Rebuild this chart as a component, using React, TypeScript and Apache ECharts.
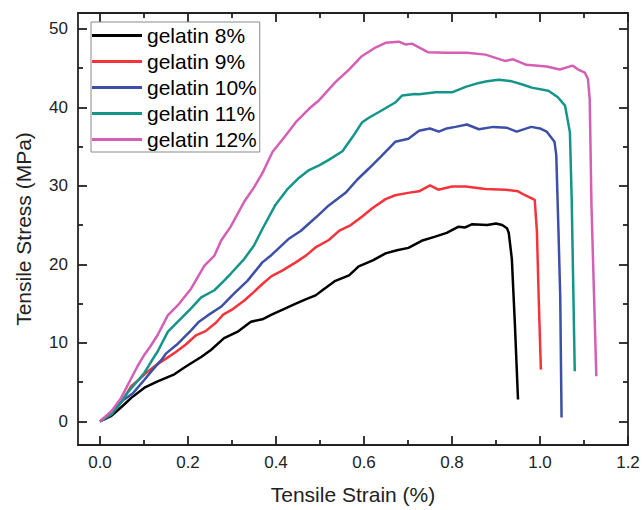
import React, { useEffect, useRef } from "react";
import * as echarts from "echarts";

const seriesNames = ["gelatin 8%", "gelatin 9%", "gelatin 10%", "gelatin 11%", "gelatin 12%"];
const seriesColors = ["#000000", "#f5333a", "#3d4fa6", "#14958a", "#d45fb5"];

const gel8: number[][] = [[0,0],[0.026,0.7],[0.05,1.9],[0.071,3.0],[0.101,4.3],[0.131,5.1],[0.169,6.0],[0.19,6.8],[0.207,7.4],[0.23,8.2],[0.252,9.1],[0.282,10.6],[0.312,11.4],[0.343,12.7],[0.369,13.0],[0.39,13.6],[0.414,14.2],[0.445,15.0],[0.47,15.6],[0.49,16.05],[0.51,16.9],[0.535,17.9],[0.566,18.6],[0.588,19.75],[0.62,20.5],[0.649,21.4],[0.675,21.8],[0.701,22.1],[0.731,23.0],[0.76,23.5],[0.788,24.0],[0.815,24.8],[0.83,24.7],[0.845,25.1],[0.88,25.0],[0.9,25.2],[0.914,25.0],[0.925,24.6],[0.929,24.0],[0.936,20.7],[0.943,12.3],[0.95,2.8]];
const gel9: number[][] = [[0,0],[0.025,1.2],[0.048,2.4],[0.071,4.5],[0.09,5.4],[0.101,6.0],[0.128,7.2],[0.15,8.0],[0.174,8.9],[0.195,9.8],[0.219,11.0],[0.24,11.5],[0.264,12.6],[0.28,13.6],[0.302,14.3],[0.328,15.4],[0.35,16.5],[0.369,17.5],[0.39,18.5],[0.414,19.2],[0.445,20.25],[0.47,21.2],[0.491,22.2],[0.52,23.1],[0.544,24.3],[0.57,25.0],[0.596,26.1],[0.618,27.1],[0.649,28.3],[0.671,28.8],[0.7,29.1],[0.725,29.3],[0.75,30.05],[0.769,29.5],[0.8,29.9],[0.831,29.9],[0.876,29.6],[0.921,29.5],[0.95,29.3],[0.966,28.8],[0.988,28.2],[0.993,24.2],[0.997,15.8],[1.002,6.6]];
const gel10: number[][] = [[0,0],[0.025,1.0],[0.05,2.6],[0.075,3.6],[0.101,5.3],[0.12,6.6],[0.139,7.8],[0.151,8.7],[0.177,9.9],[0.207,11.6],[0.225,12.7],[0.245,13.5],[0.275,14.6],[0.305,16.3],[0.335,17.9],[0.369,20.25],[0.39,21.2],[0.407,22.1],[0.43,23.3],[0.456,24.25],[0.477,25.3],[0.497,26.3],[0.52,27.5],[0.558,29.1],[0.585,30.8],[0.611,32.2],[0.64,33.8],[0.671,35.6],[0.701,36.0],[0.725,37.0],[0.75,37.3],[0.77,36.9],[0.788,37.3],[0.808,37.5],[0.834,37.8],[0.861,37.2],[0.894,37.5],[0.924,37.4],[0.947,36.9],[0.98,37.5],[1.0,37.3],[1.015,36.9],[1.033,35.6],[1.037,33.9],[1.042,24.2],[1.046,15.8],[1.049,0.5]];
const gel11: number[][] = [[0,0],[0.026,0.9],[0.045,2.2],[0.063,3.7],[0.08,4.8],[0.101,6.2],[0.115,7.5],[0.131,8.9],[0.154,11.4],[0.177,12.7],[0.207,14.4],[0.23,15.8],[0.26,16.7],[0.28,17.8],[0.297,18.8],[0.328,20.7],[0.35,22.4],[0.369,24.5],[0.399,27.6],[0.425,29.5],[0.452,31.0],[0.475,32.0],[0.498,32.6],[0.52,33.3],[0.551,34.4],[0.575,36.3],[0.596,38.1],[0.612,38.7],[0.634,39.4],[0.671,40.6],[0.687,41.5],[0.716,41.7],[0.725,41.65],[0.763,41.9],[0.8,41.9],[0.831,42.6],[0.861,43.1],[0.88,43.3],[0.906,43.5],[0.936,43.3],[0.96,42.9],[0.981,42.5],[1.019,42.1],[1.04,41.3],[1.057,40.2],[1.068,36.8],[1.072,28.4],[1.079,6.4]];
const gel12: number[][] = [[0,0],[0.026,1.3],[0.048,3.0],[0.071,5.5],[0.085,7.0],[0.101,8.5],[0.115,9.6],[0.131,11.0],[0.154,13.5],[0.177,14.8],[0.207,16.9],[0.237,19.8],[0.26,21.1],[0.275,23.0],[0.297,24.8],[0.328,28.0],[0.35,29.8],[0.369,31.6],[0.392,34.3],[0.422,36.4],[0.445,38.1],[0.475,39.8],[0.498,40.9],[0.535,43.2],[0.566,44.8],[0.595,46.5],[0.626,47.6],[0.649,48.2],[0.679,48.35],[0.694,48.0],[0.709,48.1],[0.746,47.0],[0.788,46.95],[0.834,46.95],[0.876,46.7],[0.92,45.9],[0.939,46.1],[0.969,45.4],[1.015,45.2],[1.045,44.8],[1.074,45.3],[1.087,44.8],[1.102,44.4],[1.109,43.6],[1.113,41.0],[1.117,27.5],[1.128,5.75]];

const xMajorTicks = [0, 0.2, 0.4, 0.6, 0.8, 1.0, 1.2];
const xMinorTicks = [0.1, 0.3, 0.5, 0.7, 0.9, 1.1];
const yMajorTicks = [0, 10, 20, 30, 40, 50];
const yMinorTicks = [5, 15, 25, 35, 45];

const FONT = "'Liberation Sans', Arial, Helvetica, sans-serif";
const AX = "#222222";

export default function App() {
  const ref = useRef<HTMLDivElement>(null);
  useEffect(() => {
    if (!ref.current) return;
    const chart = echarts.init(ref.current, undefined, { renderer: "svg" });
    const allData = [gel8, gel9, gel10, gel11, gel12];
    const xMin = -0.05, xMax = 1.2, yMin = -3, yMax = 52;
    const lineStyle = { color: AX, width: 1.8 };
    const mkX = (pos: string, ticks: number[], len: number, showLine: boolean, labels: boolean, extra: any = {}) => ({
      type: "value", position: pos, min: xMin, max: xMax, gridIndex: 0,
      axisLine: { show: showLine, onZero: false, lineStyle },
      axisTick: { show: true, inside: true, length: len, customValues: ticks, lineStyle },
      axisLabel: labels
        ? { show: true, customValues: ticks, formatter: (v: number) => v.toFixed(1), fontSize: 17, color: AX, fontFamily: FONT, margin: 9 }
        : { show: false },
      splitLine: { show: false },
      ...extra,
    });
    const mkY = (pos: string, ticks: number[], len: number, showLine: boolean, labels: boolean, extra: any = {}) => ({
      type: "value", position: pos, min: yMin, max: yMax, gridIndex: 0,
      axisLine: { show: showLine, onZero: false, lineStyle },
      axisTick: { show: true, inside: true, length: len, customValues: ticks, lineStyle },
      axisLabel: labels
        ? { show: true, customValues: ticks, formatter: (v: number) => String(v), fontSize: 17, color: AX, fontFamily: FONT, margin: 10 }
        : { show: false },
      splitLine: { show: false },
      ...extra,
    });
    chart.setOption({
      animation: false,
      backgroundColor: "#ffffff",
      grid: { left: 78, right: 15, top: 13, bottom: 62, containLabel: false },
      legend: {
        show: true,
        data: seriesNames,
        orient: "vertical",
        left: 91,
        top: 22,
        icon: "rect",
        itemWidth: 50,
        itemHeight: 3,
        itemGap: 5,
        padding: [3, 3, 2, 1],
        borderColor: "#8a8a8a",
        borderWidth: 1,
        backgroundColor: "#ffffff",
        textStyle: { fontSize: 21, color: "#000", fontFamily: FONT },
      },
      xAxis: [
        mkX("bottom", xMajorTicks, 9, true, true, {
          name: "Tensile Strain (%)", nameLocation: "middle", nameGap: 39,
          nameTextStyle: { fontSize: 21, color: AX, fontFamily: FONT },
        }),
        mkX("bottom", xMinorTicks, 5, false, false),
        mkX("top", xMajorTicks, 9, true, false),
        mkX("top", xMinorTicks, 5, false, false),
      ],
      yAxis: [
        mkY("left", yMajorTicks, 9, true, true, {
          name: "Tensile Stress (MPa)", nameLocation: "middle", nameGap: 44, nameRotate: 90,
          nameTextStyle: { fontSize: 21, color: AX, fontFamily: FONT },
        }),
        mkY("left", yMinorTicks, 5, false, false),
        mkY("right", yMajorTicks, 9, true, false),
        mkY("right", yMinorTicks, 5, false, false),
      ],
      series: seriesNames.map((n, i) => ({
        name: n,
        type: "line",
        xAxisIndex: 0,
        yAxisIndex: 0,
        data: allData[i],
        showSymbol: false,
        symbol: "none",
        smooth: false,
        lineStyle: { color: seriesColors[i], width: 2.5 },
        itemStyle: { color: seriesColors[i] },
        z: 2 + i,
      })),
    });
    return () => chart.dispose();
  }, []);
  return <div ref={ref} style={{ position: "fixed", left: 0, top: 0, width: 643, height: 510 }} />;
}
